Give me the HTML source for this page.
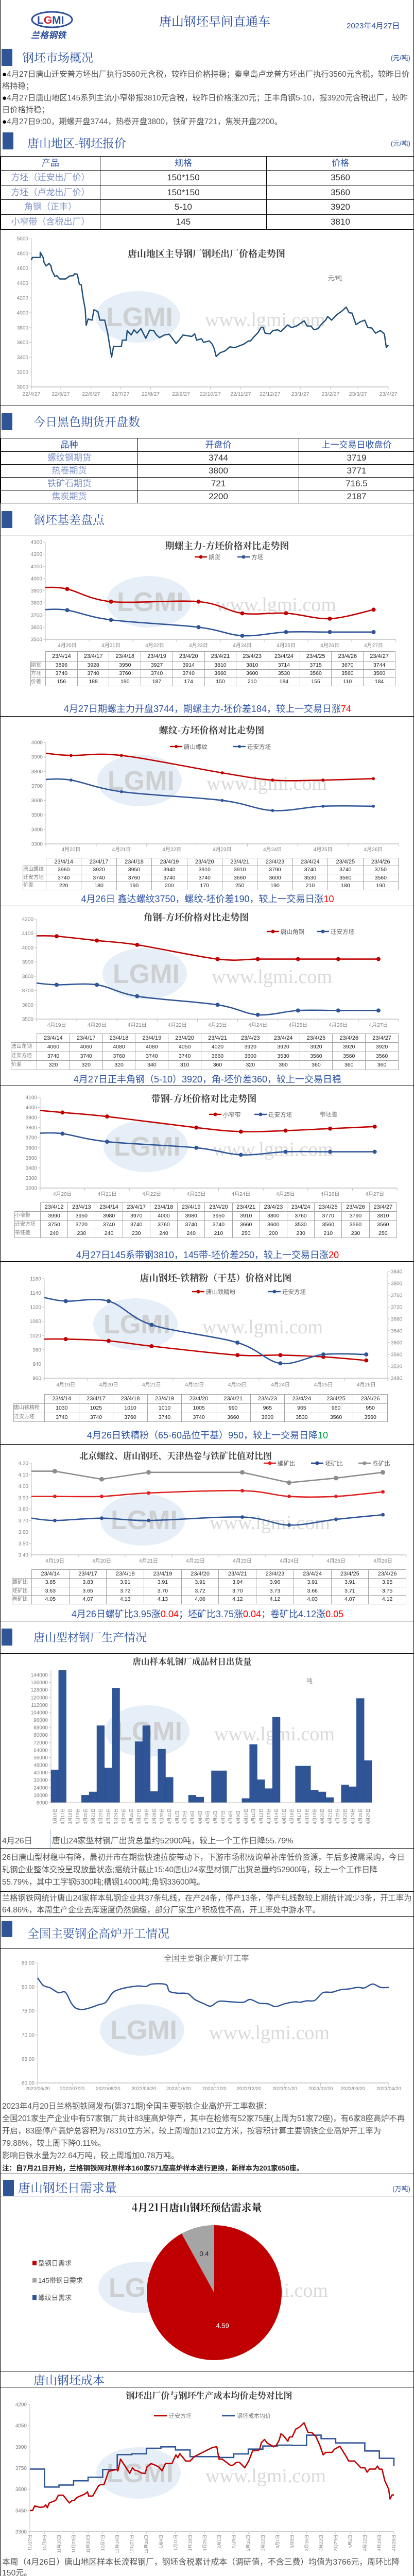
<!DOCTYPE html>
<html><head><meta charset="utf-8">
<style>
body{margin:0;background:#fff;overflow:hidden}
#page{position:relative;width:804px;height:5008px;overflow:hidden;font-family:"Liberation Sans","Noto Sans CJK SC",sans-serif;border-left:1px solid #000;border-right:1px solid #000;box-sizing:border-box;background:#fff}
#svg{position:absolute;left:0;top:0}
.hl{position:absolute;left:0;width:804px;height:0;border-top:1.5px solid #000}
.bar{position:absolute;background:#2f5597;width:21px;height:33px;border-radius:1px}
.sec{position:absolute;font-family:"Noto Serif CJK SC","Liberation Serif",serif;font-size:23px;color:#2f55a4;line-height:1;white-space:nowrap}
.unit{position:absolute;right:6px;font-size:13px;color:#2f55a4}
.txt{position:absolute;left:3px;width:796px;font-size:15.3px;color:#555;line-height:23px}
.cap{position:absolute;left:0;width:804px;text-align:center;font-size:18px;color:#2f55a4;line-height:20px;white-space:nowrap}
.red{color:#ff0000}.grn{color:#00a040}
table{border-collapse:collapse;position:absolute;table-layout:fixed}
table.q td{border:1.5px solid #000;text-align:center;font-size:17px;color:#333;padding:0;line-height:20px}
table.q tr.h td{color:#2f55a4}
table.q td.f{color:#7f93c6}
table.t td{border:1px solid #a6a6a6;text-align:center;font-size:10.5px;color:#222;padding:0;white-space:nowrap;overflow:hidden;box-sizing:border-box}
table.t td.l{color:#808080;text-align:left;font-size:10px}
table.t td.e{border:none}
</style></head>
<body>
<div id="page">
<svg id="svg" width="804" height="5008" xmlns="http://www.w3.org/2000/svg"></svg>

<svg style="position:absolute;left:55px;top:18px" width="95" height="62">
<ellipse cx="45" cy="20" rx="39" ry="15" fill="none" stroke="#2a4c9c" stroke-width="3"/>
<text x="16" y="28" font-size="21" font-weight="bold" fill="#2a4c9c" font-family="Liberation Sans">L<tspan fill="#d02030">G</tspan>MI</text>
<text x="4" y="56" font-size="17" font-weight="bold" font-style="italic" fill="#2a4c9c" font-family="Noto Sans CJK SC">兰格钢铁</text>
</svg>
<div style="position:absolute;left:308px;top:26px;font-family:'Noto Serif CJK SC',serif;font-size:24px;line-height:1.2;color:#2a4c9c">唐山钢坯早间直通车</div>
<div style="position:absolute;left:672px;top:39px;font-size:15px;color:#2a4c9c">2023年4月27日</div>

<div class="bar" style="left:2px;top:95px"></div>
<div class="sec" style="left:42px;top:99px">钢坯市场概况</div>
<div class="unit" style="top:102px">(元/吨)</div>
<div class="txt" style="top:133px"><span style="color:#000">●</span>4月27日唐山迁安普方坯出厂执行3560元含税，较昨日价格持稳；秦皇岛卢龙普方坯出厂执行3560元含税，较昨日价格持稳；<br><span style="color:#000">●</span>4月27日唐山地区145系列主流小窄带报3810元含税，较昨日价格涨20元；正丰角钢5-10，报3920元含税出厂，较昨日价格持稳；<br><span style="color:#000">●</span>4月27日9:00，期螺开盘3744，热卷开盘3800，铁矿开盘721，焦炭开盘2200。</div>

<div class="bar" style="left:4px;top:257px"></div>
<div class="sec" style="left:52px;top:265px">唐山地区-钢坯报价</div>
<div class="unit" style="top:268px">(元/吨)</div>
<table class="q" style="left:0;top:303px;width:804px">
<colgroup><col style="width:193px"><col style="width:323px"><col></colgroup>
<tr class="h" style="height:27px"><td>产品</td><td>规格</td><td>价格</td></tr>
<tr style="height:29px"><td class="f">方坯（迁安出厂价）</td><td>150*150</td><td>3560</td></tr>
<tr style="height:28px"><td class="f">方坯（卢龙出厂价）</td><td>150*150</td><td>3560</td></tr>
<tr style="height:29px"><td class="f">角钢（正丰）</td><td>5-10</td><td>3920</td></tr>
<tr style="height:29px"><td class="f">小窄带（含税出厂）</td><td>145</td><td>3810</td></tr>
</table>
<div class="hl" style="top:786px"></div>

<div class="bar" style="left:2px;top:802px"></div>
<div class="sec" style="left:64px;top:806px">今日黑色期货开盘数</div>
<table class="q" style="left:0;top:850px;width:804px">
<colgroup><col style="width:266px"><col style="width:313px"><col></colgroup>
<tr class="h" style="height:26px"><td>品种</td><td>开盘价</td><td>上一交易日收盘价</td></tr>
<tr style="height:25px"><td class="f">螺纹钢期货</td><td>3744</td><td>3719</td></tr>
<tr style="height:25px"><td class="f">热卷期货</td><td>3800</td><td>3771</td></tr>
<tr style="height:25px"><td class="f">铁矿石期货</td><td>721</td><td>716.5</td></tr>
<tr style="height:25px"><td class="f">焦炭期货</td><td>2200</td><td>2187</td></tr>
</table>

<div class="bar" style="left:2px;top:992px"></div>
<div class="sec" style="left:64px;top:996px">钢坯基差盘点</div>
<div class="hl" style="top:1038px"></div>

<div class="cap" style="top:1366px">4月27日期螺主力开盘3744，期螺主力-坯价差184，较上一交易日涨<span class="red">74</span></div>
<div class="hl" style="top:1390px"></div>
<div class="cap" style="top:1735px">4月26日 鑫达螺纹3750，螺纹-坯价差190，较上一交易日涨<span class="red">10</span></div>
<div class="hl" style="top:1758px"></div>
<div class="cap" style="top:2085px">4月27日正丰角钢（5-10）3920，角-坯价差360，较上一交易日稳</div>
<div class="hl" style="top:2107px"></div>
<div class="cap" style="top:2426px">4月27日145系带钢3810，145带-坯价差250，较上一交易日涨<span class="red">20</span></div>
<div class="hl" style="top:2448px"></div>
<div class="cap" style="top:2776px">4月26日铁精粉（65-60品位干基）950，较上一交易日降<span class="grn">10</span></div>
<div class="hl" style="top:2803px"></div>
<div class="cap" style="top:3123px">4月26日螺矿比3.95涨<span class="red">0.04</span>；坯矿比3.75涨<span class="red">0.04</span>；卷矿比4.12涨<span class="red">0.05</span></div>
<div class="hl" style="top:3146px"></div>

<div class="bar" style="left:2px;top:3161px;height:33px"></div>
<div class="sec" style="left:64px;top:3167px;font-size:22px">唐山型材钢厂生产情况</div>
<div class="hl" style="top:3209px"></div>

<div style="position:absolute;left:3px;top:3559px;font-size:16px;color:#555">4月26日</div>
<div style="position:absolute;left:97px;top:3552px;height:35px;border-left:1px solid #a8b8d8"></div>
<div style="position:absolute;left:100px;top:3559px;font-size:16px;color:#555">唐山24家型材钢厂出货总量约52900吨，较上一个工作日降55.79%</div>
<div class="hl" style="top:3587px"></div>
<div class="txt" style="top:3594px;line-height:24px">26日唐山型材稳中有降，晨初开市在期盘快速拉旋带动下，下游市场积极询单补库低价资源，午后多按需采购，今日轧钢企业整体交投呈现放量状态;据统计截止15:40唐山24家型材钢厂出货总量约52900吨，较上一个工作日降55.79%，其中工字钢5300吨;槽钢14000吨;角钢33600吨。</div>
<div class="hl" style="top:3671px"></div>
<div class="txt" style="top:3673px;line-height:23px">兰格钢铁网统计唐山24家样本轧钢企业共37条轧线，在产24条，停产13条，停产轧线数较上期统计减少3条，开工率为64.86%，本周生产企业去库速度仍然偏缓，部分厂家生产积极性不高，开工率处中游水平。</div>
<div class="hl" style="top:3719px"></div>
<div class="bar" style="left:2px;top:3729px;height:31px"></div>
<div class="sec" style="left:52px;top:3740px">全国主要钢企高炉开工情况</div>
<div class="hl" style="top:3782px"></div>

<div class="txt" style="top:4077px;line-height:24px">2023年4月20日兰格钢铁网发布(第371期)全国主要钢铁企业高炉开工率数据：<br>全国201家生产企业中有57家钢厂共计83座高炉停产，其中在检修有52家75座(上周为51家72座)，有6家8座高炉不再开启，83座停产高炉总容积为78310立方米，较上周增加1210立方米，按容积计算主要钢铁企业高炉开工率为79.88%，较上周下降0.11%。<br>影响日铁水量为22.64万吨，较上周增加0.78万吨。<br><span style="font-size:13.5px;color:#222;font-weight:bold">注：自7月21日开始，兰格钢铁网对原样本160家571座高炉样本进行更换，新样本为201家650座。</span></div>
<div class="hl" style="top:4219px"></div>
<div class="bar" style="left:5px;top:4231px;height:31px"></div>
<div class="sec" style="left:34px;top:4233px;font-size:24px">唐山钢坯日需求量</div>
<div class="unit" style="top:4238px">(万吨)</div>
<div class="hl" style="top:4262px"></div>
<div class="hl" style="top:4602px"></div>
<div class="sec" style="left:64px;top:4607px">唐山钢坯成本</div>
<div class="hl" style="top:4633px"></div>
<div class="txt" style="top:4963px;line-height:21px;font-size:15.8px">本周（4月26日）唐山地区样本长流程钢厂，钢坯含税累计成本（调研值，不含三费）均值为3766元，周环比降150元。</div>
</div>

<script>
// ===== data =====
const bigDays=[0,1,9,9,12,13,15,18,20,21,24,26,29,35,39,43,44,47,49,51,53,55,56,58,62,64,68,70,75,78,82,84,92,93,97,98,102,105,108,112,117,121,125,128,131,136,141,148,151,155,164,167,169,174,176,182,185,187,189,193,198,203,208,210,217,222,224,228,232,235,237,239,244,247,252,255,259,262,266,271,279,282,286,289,293,297,301,303,307,313,317,322,325,328,332,336,341,344,348,352,357,361,363,365];
const bigVals=[4710,4745,4745,4815,4745,4675,4630,4665,4630,4570,4490,4500,4455,4455,4495,4500,4525,4518,4385,4375,4190,4050,3830,3915,3900,4040,4015,3900,3900,3725,3400,3545,3545,3630,3630,3760,3700,3770,3725,3785,3655,3765,3760,3700,3665,3700,3710,3585,3630,3700,3680,3715,3630,3650,3600,3620,3575,3515,3410,3460,3485,3540,3530,3540,3575,3620,3620,3680,3735,3805,3805,3725,3715,3760,3770,3745,3795,3835,3800,3820,3890,3820,3820,3770,3785,3850,3900,3950,3900,3980,4015,4075,4000,3995,3840,3875,3900,3800,3795,3725,3760,3715,3530,3565];
const bigLabels=['22/4/27','22/5/27','22/6/27','22/7/27','22/8/27','22/9/27','22/10/27','22/11/27','22/12/27','23/1/27','23/2/27','23/3/27','23/4/27'];
const bigLabelDays=[0,30,61,91,122,153,183,214,244,275,306,334,365];

const c2Cats=['4月20日','4月21日','4月22日','4月23日','4月24日','4月25日','4月26日','4月27日'];
const c2Fut=[3914,3810,null,3810,3714,3715,3670,3744];
const c2Bil=[3740,3660,null,3600,3530,3560,3560,3560];
const c2Heads=['23/4/14','23/4/17','23/4/18','23/4/19','23/4/20','23/4/21','23/4/23','23/4/24','23/4/25','23/4/26','23/4/27'];
const c2RowFut=[3896,3928,3950,3927,3914,3810,3810,3714,3715,3670,3744];
const c2RowBil=[3740,3740,3760,3740,3740,3660,3600,3530,3560,3560,3560];
const c2RowDiff=[156,188,190,187,174,150,210,184,155,110,184];

const c3Cats=['4月20日','4月21日','4月22日','4月23日','4月24日','4月25日','4月26日'];
const c3Reb=[3910,3910,null,3790,3740,3740,3750];
const c3Bil=[3740,3660,null,3600,3530,3560,3560];
const c3Heads=['23/4/14','23/4/17','23/4/18','23/4/19','23/4/20','23/4/21','23/4/23','23/4/24','23/4/25','23/4/26'];
const c3RowReb=[3960,3920,3950,3940,3910,3910,3790,3740,3740,3750];
const c3RowBil=[3740,3740,3760,3740,3740,3660,3600,3530,3560,3560];
const c3RowDiff=[220,180,190,200,170,250,190,210,180,190];

const c4Cats=['4月19日','4月20日','4月21日','4月22日','4月23日','4月24日','4月25日','4月26日','4月27日'];
const c4Ang=[4080,4050,4020,null,3920,3920,3920,3920,3920];
const c4Bil=[3740,3740,3660,null,3600,3530,3560,3560,3560];
const c4Heads=['23/4/14','23/4/17','23/4/18','23/4/19','23/4/20','23/4/21','23/4/23','23/4/24','23/4/25','23/4/26','23/4/27'];
const c4RowAng=[4060,4060,4080,4080,4050,4020,3920,3920,3920,3920,3920];
const c4RowBil=[3740,3740,3760,3740,3740,3660,3600,3530,3560,3560,3560];
const c4RowDiff=[320,320,320,340,310,360,320,390,360,360,360];

const c5Cats=['4月20日','4月21日','4月22日','4月23日','4月24日','4月25日','4月26日','4月27日'];
const c5Strip=[3950,3910,null,3800,3760,3770,3790,3810];
const c5Bil=[3740,3660,null,3600,3530,3560,3560,3560];
const c5Heads=['23/4/12','23/4/13','23/4/14','23/4/17','23/4/18','23/4/19','23/4/20','23/4/21','23/4/23','23/4/24','23/4/25','23/4/26','23/4/27'];
const c5RowStrip=[3990,3950,3980,3970,4000,3980,3950,3910,3800,3760,3770,3790,3810];
const c5RowBil=[3750,3720,3740,3740,3760,3740,3740,3660,3600,3530,3560,3560,3560];
const c5RowDiff=[240,230,240,230,240,240,210,250,200,230,210,230,250];

const c6Cats=['4月19日','4月20日','4月21日','4月22日','4月23日','4月24日','4月25日','4月26日'];
const c6Ore=[1010,1005,990,null,965,965,960,950];
const c6Bil=[3740,3740,3660,null,3600,3530,3560,3560];
const c6Heads=['23/4/14','23/4/17','23/4/18','23/4/19','23/4/20','23/4/21','23/4/23','23/4/24','23/4/25','23/4/26'];
const c6RowOre=[1030,1025,1010,1010,1005,990,965,965,960,950];
const c6RowBil=[3740,3740,3760,3740,3740,3660,3600,3530,3560,3560];

const c7Cats=['4月19日','4月20日','4月21日','4月22日','4月23日','4月24日','4月25日','4月26日'];
const c7Reb=[3.91,3.91,3.94,null,3.96,3.91,3.91,3.95];
const c7Bil=[3.70,3.72,3.70,null,3.73,3.66,3.71,3.75];
const c7Coil=[4.13,4.06,4.12,null,4.12,4.03,4.07,4.12];
const c7Heads=['23/4/14','23/4/17','23/4/18','23/4/19','23/4/20','23/4/21','23/4/23','23/4/24','23/4/25','23/4/26'];
const c7RowReb=['3.85','3.83','3.91','3.91','3.91','3.94','3.96','3.91','3.91','3.95'];
const c7RowBil=['3.63','3.65','3.72','3.70','3.72','3.70','3.73','3.66','3.71','3.75'];
const c7RowCoil=['4.05','4.07','4.13','4.13','4.06','4.12','4.12','4.03','4.07','4.12'];

const barCats=['3月16日','3月17日','3月18日','3月19日','3月20日','3月21日','3月22日','3月23日','3月24日','3月25日','3月26日','3月27日','3月28日','3月29日','3月30日','3月31日','4月1日','4月2日','4月3日','4月4日','4月5日','4月6日','4月7日','4月8日','4月9日','4月10日','4月11日','4月12日','4月13日','4月14日','4月15日','4月16日','4月17日','4月18日','4月19日','4月20日','4月21日','4月22日','4月23日','4月24日','4月25日','4月26日'];
const barVals=[43000,150000,0,0,16000,19500,90000,45000,130000,0,0,73000,90000,20000,65000,35000,0,0,16000,14000,0,42000,42000,0,0,12500,70000,32500,23000,99000,0,0,47000,47000,21500,19500,13500,0,27000,25000,119000,52900];

const bfDays=[0,5,11,18,24,29,33,39,46,53,59,65,71,78,87,94,99,111,114,121,130,136,144,150,157,167,178,184,192,199,206,214,223,227,233,240,247,255,262,270,277,283,290,297,304];
const bfVals=[81.9,80.3,79.8,78.8,78.9,76.7,75.6,75.3,75.7,76.3,76.8,78.8,79.5,79.9,80.2,80.1,80.6,80.5,79.1,78.7,78.6,77.4,76.5,76.0,77.0,76.9,76.8,77.4,76.6,76.5,75.9,76.5,76.9,76.8,77.1,77.2,78.8,78.9,79.4,79.6,79.9,79.8,80.6,79.9,79.9];
const bfLabels=['2022/06/20','2022/07/20','2022/08/20','2022/09/20','2022/10/20','2022/11/20','2022/12/20','2023/01/20','2023/02/20','2023/03/20','2023/04/20'];
const bfLabelDays=[0,30,61,92,122,153,183,214,245,273,304];

const pieLabels=['型钢日需求','145带钢日需求','螺纹日需求'];
const pieVals=[4.59,0.4,0];

const costDays=[0,1.3,2.3,4.8,6.7,7.6,8.4,9.3,12.4,13.7,16,19,20.3,21.3,22.6,26.4,27.7,28.3,30.2,33,34,35.6,36.6,37.8,41.7,42.3,43.6,45.5,48,49.3,50.5,51.8,53.7,55.4,56.3,58.2,59.4,62,63.5,65.2,68.3,70.2,71.1,72.1,74.9,77,79.1,83.6,87.4,89.3,89.9,90.9,92.5,96.3,97.5,99.4,100.7,103.3,105.2,107.1,109.6,110.5,111.3,112.8,114,117.2,118.5,119.8,120.7,121.7,124,124.8,126.1,127.8,129.9,131.8,133.7,135.6,137.5,139.4,141,142.2,145.2,146.4,149,152.1,153.2,156,159.1,161,162.1,163.3,166.1,167.1,168,169.3,170.6,172.5,173.1,174.1,175];
const costBillet=[3450,3450,3482,3472,3475,3490,3470,3503,3521,3558,3558,3503,3521,3521,3542,3566,3582,3552,3552,3625,3633,3633,3673,3727,3740,3730,3813,3770,3713,3752,3734,3730,3715,3712,3758,3782,3776,3758,3730,3782,3782,3843,3823,3852,3800,3800,3831,3865,3893,3900,3900,3813,3813,3770,3770,3791,3791,3752,3800,3873,3873,3885,3931,3952,3928,3900,3912,3946,3992,3983,3940,3970,3970,4025,4043,4070,4003,4000,3973,3910,3843,3861,3861,3883,3904,3831,3800,3800,3752,3752,3721,3743,3743,3764,3742,3742,3661,3600,3531,3560,3560];
const costWeekly=[3743,3616,3630,3660,3685,3740,3845,3851,3890,3900,3878,3831,3831,3825,3850,3884,3906,3912,3910,3983,3958,3928,3928,3871,3819,3766];
const costLabels=['11月2日','11月9日','11月16日','11月23日','11月30日','12月7日','12月14日','12月21日','12月28日','1月4日','1月11日','1月18日','1月25日','2月1日','2月8日','2月15日','2月22日','3月1日','3月8日','3月15日','3月22日','3月29日','4月5日','4月12日','4月19日','4月26日'];

// ===== helpers =====
const NS='http://www.w3.org/2000/svg';
const svg=document.getElementById('svg');
function el(tag,attrs,parent){const e=document.createElementNS(NS,tag);for(const k in attrs)e.setAttribute(k,attrs[k]);(parent||svg).appendChild(e);return e;}
function tx(x,y,s,attrs,parent){const e=el('text',Object.assign({x:x,y:y},attrs),parent);e.textContent=s;return e;}
function smooth(p){let d='M'+p[0][0]+','+p[0][1];for(let i=0;i<p.length-1;i++){const p0=p[i-1]||p[i],p1=p[i],p2=p[i+1],p3=p[i+2]||p2;d+=' C'+(p1[0]+(p2[0]-p0[0])/6)+','+(p1[1]+(p2[1]-p0[1])/6)+' '+(p2[0]-(p3[0]-p1[0])/6)+','+(p2[1]-(p3[1]-p1[1])/6)+' '+p2[0]+','+p2[1];}return d;}
function poly(p){return 'M'+p.map(q=>q[0]+','+q[1]).join(' L');}
const FONT='Liberation Sans, Noto Sans CJK SC, sans-serif';
const SERIF='Noto Serif CJK SC, Liberation Serif, serif';

function watermark(g,cx,cy){
  const e=el('ellipse',{cx:cx,cy:cy,rx:82,ry:50,fill:'#d6e4f2',opacity:0.6},g);
  
  const t=tx(cx-62,cy+18,'LGMI',{'font-size':52,'font-weight':'bold',fill:'#c8c8c8',opacity:0.8,'font-family':FONT},g);
  
  const w=tx(cx+130,cy+18,'www.lgmi.com',{'font-size':38,fill:'#d0d0d0',opacity:0.8,'font-family':'Liberation Serif, serif'},g);
  
}

function yAxis(g,x,yT,yB,vT,vB,step,dec,side){
  const ax=el('line',{x1:x,y1:yT,x2:x,y2:yB,stroke:'#bfbfbf','stroke-width':1},g);
  
  const n=Math.round((vT-vB)/step);
  for(let i=0;i<=n;i++){const v=vB+i*step;const y=yB-(v-vB)/(vT-vB)*(yB-yT);
    el('line',{x1:side==='r'?x:x-4,y1:y,x2:side==='r'?x+4:x,y2:y,stroke:'#bfbfbf'},g);
    const t=tx(side==='r'?x+6:x-6,y+3.5,v.toFixed(dec),{'font-size':10,fill:'#7f7f7f','text-anchor':side==='r'?'start':'end','font-family':FONT},g);
    
  }
}

function legendItem(g,x,y,color,label,marker){
  el('line',{x1:x,y1:y,x2:x+24,y2:y,stroke:color,'stroke-width':2.5},g);
  el('circle',{cx:x+12,cy:y,r:marker||3.5,fill:color},g);
  const t=tx(x+27,y+4.5,label,{'font-size':11.5,fill:'#595959','font-family':FONT},g);
  
}

function catChart(c){
  const g=el('g',{});
  
  watermark(g,c.wx,c.wy);
  yAxis(g,c.x0,c.yT,c.yB,c.vT,c.vB,c.step,c.dec||0,'l');
  if(c.right) yAxis(g,c.x1,c.right.yT,c.yB,c.right.vT,c.right.vB,c.right.step,0,'r');
  const ax=el('line',{x1:c.x0,y1:c.yB,x2:c.x1,y2:c.yB,stroke:'#bfbfbf','stroke-width':1.5},g);
  
  const w=(c.x1-c.x0)/c.cats.length;
  c.cats.forEach((s,i)=>{
    el('line',{x1:c.x0+i*w,y1:c.yB,x2:c.x0+i*w,y2:c.yB+5,stroke:'#bfbfbf'},g);
    const t=tx(c.x0+(i+0.5)*w,c.lY,s,{'font-size':10,fill:'#7f7f7f','text-anchor':'middle','font-family':FONT},g);
    
  });
  el('line',{x1:c.x1,y1:c.yB,x2:c.x1,y2:c.yB+5,stroke:'#bfbfbf'},g);
  const tt=tx(c.tx,c.ty,c.title,{'font-size':c.tfs||18,'font-weight':'bold',fill:'#404040','text-anchor':'middle','font-family':SERIF},g);
  
  c.series.forEach(s=>{
    const a=s.right?c.right:{vT:c.vT,vB:c.vB,yT:c.yT};
    const Y=v=>c.yB-(v-a.vB)/(a.vT-a.vB)*(c.yB-a.yT);
    const pts=[[c.x0,Y(s.start)]];
    s.vals.forEach((v,i)=>{if(v!==null)pts.push([c.x0+(i+0.5)*w,Y(v)]);});
    const p=el('path',{d:s.straight?poly(pts):smooth(pts),fill:'none',stroke:s.color,'stroke-width':2.6},g);
    
    pts.slice(1).forEach(q=>{
      const m=el('circle',{cx:q[0],cy:q[1],r:s.r||4,fill:s.color},g);
      
    });
  });
  c.legend.forEach(L=>legendItem(g,L[0],c.legY,L[1],L[2],L[3]));
  return g;
}

function dataTable(name,top,left,right,labW,heads,rowLabels,rows,hH,rH){
  const t=document.createElement('table');
  t.className='t';
  
  
  t.style.top=top+'px';t.style.left=left+'px';t.style.width=(right-left)+'px';
  const cg=document.createElement('colgroup');
  const c0=document.createElement('col');c0.style.width=labW+'px';cg.appendChild(c0);
  heads.forEach(()=>{const c=document.createElement('col');cg.appendChild(c);});
  t.appendChild(cg);
  const hr=document.createElement('tr');
  const e=document.createElement('td');e.className='e';e.style.height=hH+'px';e.style.lineHeight=(hH-1)+'px';hr.appendChild(e);
  heads.forEach(h=>{const d=document.createElement('td');d.textContent=h;d.style.fontSize='11px';d.style.height=hH+'px';d.style.lineHeight=(hH-1)+'px';hr.appendChild(d);});
  t.appendChild(hr);
  rows.forEach((r,ri)=>{
    const tr=document.createElement('tr');
    const l=document.createElement('td');l.className='l';l.textContent=rowLabels[ri];l.style.height=rH+'px';l.style.lineHeight=(rH-1)+'px';tr.appendChild(l);
    r.forEach(v=>{const d=document.createElement('td');d.textContent=v;d.style.height=rH+'px';d.style.lineHeight=(rH-1)+'px';tr.appendChild(d);});
    t.appendChild(tr);
  });
  document.getElementById('page').appendChild(t);
}

// ===== chart 1 =====
(function(){
  const g=el('g',{});
  
  const x0=60,x1=753,yT=463,yB=751,vT=5000,vB=3000;
  const X=d=>x0+d/365*(x1-x0), Y=v=>yB-(v-vB)/(vT-vB)*(yB-yT);
  watermark(g,267,615);
  yAxis(g,x0,yT,yB,vT,vB,200,0,'l');
  const ax=el('line',{x1:x0,y1:yB,x2:x1,y2:yB,stroke:'#bfbfbf','stroke-width':1.5},g);
  
  bigLabels.forEach((s,i)=>{const x=X(bigLabelDays[i]);
    el('line',{x1:x,y1:yB,x2:x,y2:yB+5,stroke:'#bfbfbf'},g);
    const t=tx(x,yB+17,s,{'font-size':10.5,fill:'#7f7f7f','text-anchor':'middle','font-family':FONT},g);
    });
  const tt=tx(400,499,'唐山地区主导钢厂钢坯出厂价格走势图',{'font-size':18,'font-weight':'bold',fill:'#404040','text-anchor':'middle','font-family':SERIF},g);
  
  const u=tx(636,544,'元/吨',{'font-size':12,fill:'#7f7f7f','font-family':FONT},g);
  
  const p=el('path',{d:poly(bigDays.map((d,i)=>[X(d),Y(bigVals[i])])),fill:'none',stroke:'#1f4e79','stroke-width':2.5,'stroke-linejoin':'round'},g);
  
})();

// ===== category charts =====
catChart({name:'futures-vs-billet-chart',x0:87,x1:767,yT:1052,yB:1241,vT:4300,vB:3500,step:100,cats:c2Cats,lY:1256,
  title:'期螺主力-方坯价格对比走势图',tx:440,ty:1066,legY:1081,wx:288,wy:1168,
  series:[{name:'futures-line',vals:c2Fut,start:3927,color:'#c00000'},{name:'billet-line',vals:c2Bil,start:3745,color:'#2f5597'}],
  legend:[[377,'#c00000','期货'],[460,'#2f5597','方坯']]});
dataTable('futures-basis-table',1264,58,767,29,c2Heads,['期货','方坯','价差'],[c2RowFut,c2RowBil,c2RowDiff],19,16);

catChart({name:'rebar-vs-billet-chart',x0:88,x1:773,yT:1441,yB:1638,vT:4000,vB:3300,step:100,cats:c3Cats,lY:1652,
  title:'螺纹-方坯价格对比走势图',tx:410,ty:1424,legY:1449,wx:270,wy:1515,
  series:[{name:'rebar-line',vals:c3Reb,start:3925,color:'#c00000',r:3},{name:'billet-line',vals:c3Bil,start:3745,color:'#2f5597',r:3}],
  legend:[[329,'#c00000','唐山螺纹',3],[452,'#2f5597','迁安方坯',3]]});
dataTable('rebar-basis-table',1665,43,773,45,c3Heads,['唐山螺纹','迁安方坯','价差'],[c3RowReb,c3RowBil,c3RowDiff],15,15.5);

catChart({name:'angle-vs-billet-chart',x0:70,x1:773,yT:1784,yB:1978,vT:4200,vB:3500,step:100,cats:c4Cats,lY:1993,
  title:'角钢-方坯价格对比走势图',tx:380,ty:1787,legY:1808,wx:280,wy:1890,
  series:[{name:'angle-line',vals:c4Ang,start:4083,color:'#c00000'},{name:'billet-line',vals:c4Bil,start:3752,color:'#2f5597'}],
  legend:[[517,'#c00000','唐山角钢'],[614,'#2f5597','迁安方坯']]});
dataTable('angle-basis-table',2006,20,773,50,c4Heads,['唐山角钢','迁安方坯','价差'],[c4RowAng,c4RowBil,c4RowDiff],17,17.5);

catChart({name:'strip-vs-billet-chart',x0:77,x1:770,yT:2130,yB:2306,vT:4100,vB:3200,step:100,cats:c5Cats,lY:2321,
  title:'带钢-方坯价格对比走势图',tx:395,ty:2139,legY:2163,wx:282,wy:2225,
  series:[{name:'strip-line',vals:c5Strip,start:3970,color:'#c00000'},{name:'billet-line',vals:c5Bil,start:3745,color:'#2f5597'}],
  legend:[[405,'#c00000','小窄带'],[493,'#2f5597','迁安方坯']]});
(function(){const t=tx(620,2167,'带坯差',{'font-size':11.5,fill:'#7f7f7f','font-family':FONT});})();
dataTable('strip-basis-table',2334,27,770,50,c5Heads,['小窄带','迁安方坯','带坯差'],[c5RowStrip,c5RowBil,c5RowDiff],17,17);

catChart({name:'billet-vs-ore-chart',x0:85,x1:752,yT:2482,yB:2675,vT:1180,vB:900,step:40,cats:c6Cats,lY:2691,
  right:{yT:2468,vT:3840,vB:3480,step:40},
  title:'唐山钢坯-铁精粉（干基）价格对比图',tx:418,ty:2487,legY:2507,wx:262,wy:2570,
  series:[{name:'ore-powder-line',vals:c6Ore,start:1010,color:'#c00000'},{name:'billet-line',vals:c6Bil,start:3752,color:'#2f5597',right:true}],
  legend:[[372,'#c00000','唐山铁精粉'],[520,'#2f5597','迁安方坯']]});
dataTable('ore-powder-table',2706,25,752,60,c6Heads,['唐山铁精粉','迁安方坯'],[c6RowOre,c6RowBil],18,17.5);

catChart({name:'ore-ratio-chart',x0:60,x1:788,yT:2840,yB:3018,vT:4.2,vB:3.4,step:0.1,dec:2,cats:c7Cats,lY:3033,
  title:'北京螺纹、唐山钢坯、天津热卷与铁矿比值对比图',tx:340,ty:2832,tfs:17,legY:2840,wx:276,wy:2950,
  series:[{name:'rebar-ore-ratio-line',vals:c7Reb,start:3.91,color:'#e02020',r:3.5},{name:'billet-ore-ratio-line',vals:c7Bil,start:3.72,color:'#2f5597',r:3.5},{name:'coil-ore-ratio-line',vals:c7Coil,start:4.13,color:'#8c8c8c',r:4.5,straight:true}],
  legend:[[511,'#e02020','螺矿比'],[603,'#1f3f8f','坯矿比'],[695,'#8c8c8c','卷矿比']]});
dataTable('ore-ratio-table',3046,22,788,38,c7Heads,['螺矿比','坯矿比','卷矿比'],[c7RowReb,c7RowBil,c7RowCoil],17,16.5);

// ===== bar chart =====
(function(){
  const g=el('g',{});
  
  const x0=98,x1=721,yT=3251,yB=3499,vT=144000,vB=8000;
  watermark(g,285,3360);
  const Y=v=>yB-(Math.max(v,vB)-vB)/(vT-vB)*(yB-yT);
  yAxis(g,x0,yT,yB,vT,vB,8000,0,'l');
  el('line',{x1:x0,y1:3241,x2:x0,y2:yT,stroke:'#bfbfbf'},g);
  const w=(x1-x0)/barCats.length;
  barCats.forEach((s,i)=>{
    const y=Y(barVals[i]);
    if(yB-y>0.5){const yy=Math.max(y,3242);const r=el('rect',{x:x0+i*w,y:yy,width:w,height:yB-yy,fill:'#2f5597',stroke:'#2a4a8a','stroke-width':0.5},g);
      }
    const cx=x0+(i+0.5)*w;
    const t=tx(cx+3,3541,s,{'font-size':8.5,fill:'#7f7f7f','font-family':FONT,transform:'rotate(-90 '+(cx+3)+' 3541)'},g);
    
  });
  el('line',{x1:x0,y1:yB,x2:x1,y2:yB,stroke:'#bfbfbf'},g);
  const tt=tx(372,3231,'唐山样本轧钢厂成品材日出货量',{'font-size':16.5,'font-weight':'bold',fill:'#404040','text-anchor':'middle','font-family':SERIF},g);
  
  const u=tx(594,3267,'吨',{'font-size':12,fill:'#7f7f7f','font-family':FONT},g);
  
})();

// ===== blast furnace chart =====
(function(){
  const g=el('g',{});
  
  const x0=72,x1=754,yT=3810,yB=4043,vT=85,vB=60;
  const X=d=>x0+d/304*(x1-x0), Y=v=>yB-(v-vB)/(vT-vB)*(yB-yT);
  watermark(g,275,3940);
  yAxis(g,x0,yT,yB,vT,vB,5,2,'l');
  const ax=el('line',{x1:x0,y1:yB,x2:x1,y2:yB,stroke:'#bfbfbf','stroke-width':1.5},g);
  
  bfLabels.forEach((s,i)=>{const x=X(bfLabelDays[i]);
    el('line',{x1:x,y1:yB,x2:x,y2:yB+5,stroke:'#bfbfbf'},g);
    const t=tx(x,yB+14,s,{'font-size':9.5,fill:'#7f7f7f','text-anchor':'middle','font-family':FONT},g);
    });
  const tt=tx(400,3806,'全国主要钢企高炉开工率',{'font-size':15,fill:'#7f7f7f','text-anchor':'middle','font-family':FONT},g);
  
  const p=el('path',{d:smooth(bfDays.map((d,i)=>[X(d),Y(bfVals[i])])),fill:'none',stroke:'#2f5597','stroke-width':2.5},g);
  
})();

// ===== pie =====
(function(){
  const g=el('g',{});
  
  watermark(g,272,4440);
  const tt=tx(381,4292,'4月21日唐山钢坯预估需求量',{'font-size':20,'font-weight':'bold',fill:'#222','text-anchor':'middle','font-family':SERIF},g);
  
  const cx=415,cy=4450,r=131,colors=['#c00000','#a5a5a5','#2f5597'];
  const tot=pieVals.reduce((a,b)=>a+b,0);
  let a0=0;
  pieVals.forEach((v,i)=>{
    if(v<=0)return;
    const a1=a0+v/tot*2*Math.PI;
    const p1=[cx+r*Math.sin(a0),cy-r*Math.cos(a0)],p2=[cx+r*Math.sin(a1),cy-r*Math.cos(a1)];
    const s=el('path',{d:'M'+cx+','+cy+' L'+p1[0]+','+p1[1]+' A'+r+','+r+' 0 '+((a1-a0)>Math.PI?1:0)+' 1 '+p2[0]+','+p2[1]+' Z',fill:colors[i]},g);
    
    const am=(a0+a1)/2, rr=i===0?0.5:0.6;
    const t=tx(cx+r*rr*Math.sin(am),cy-r*rr*Math.cos(am)+5,String(v),{'font-size':13,fill:i===0?'#fff':'#222','text-anchor':'middle','font-family':FONT},g);
    
    a0=a1;
  });
  pieLabels.forEach((s,i)=>{
    const y=4393+i*33.5;
    el('rect',{x:62,y:y-5,width:8,height:9,fill:colors[i]},g);
    const t=tx(73,y+4.5,s,{'font-size':13,fill:'#595959','font-family':FONT},g);
    
  });
})();

// ===== cost chart =====
(function(){
  const g=el('g',{});
  
  const x0=57,x1=764,yT=4667,yB=4914,vT=4200,vB=3300;
  const X=d=>x0+d/175*(x1-x0), Y=v=>yB-(v-vB)/(vT-vB)*(yB-yT);
  watermark(g,268,4800);
  yAxis(g,x0,yT,yB,vT,vB,150,0,'l');
  const ax=el('line',{x1:x0,y1:yB,x2:x1,y2:yB,stroke:'#bfbfbf','stroke-width':1.5},g);
  
  costLabels.forEach((s,i)=>{const x=X(i*7);
    el('line',{x1:x,y1:yB,x2:x,y2:yB+4,stroke:'#bfbfbf'},g);
    const t=tx(x+3,yB+6,s,{'font-size':8.5,fill:'#7f7f7f','text-anchor':'end','font-family':FONT,transform:'rotate(-90 '+(x+3)+' '+(yB+6)+')'},g);
    });
  const tt=tx(405,4656,'钢坯出厂价与钢坯生产成本均价走势对比图',{'font-size':17,'font-weight':'bold',fill:'#404040','text-anchor':'middle','font-family':SERIF},g);
  
  let d='M'+X(0)+','+Y(costWeekly[0]);
  for(let i=1;i<costWeekly.length;i++){d+=' H'+X(i*7)+' V'+Y(costWeekly[i]);}
  const pb=el('path',{d:d,fill:'none',stroke:'#2f5597','stroke-width':2.6},g);
  
  const pr=el('path',{d:poly(costDays.map((dd,i)=>[X(dd),Y(costBillet[i])])),fill:'none',stroke:'#c00000','stroke-width':2.6,'stroke-linejoin':'round'},g);
  
  [[298,'#c00000','迁安方坯'],[430,'#2f5597','钢坯成本均价']].forEach(L=>{
    el('line',{x1:L[0],y1:4689,x2:L[0]+25,y2:4689,stroke:L[1],'stroke-width':2.5},g);
    const t=tx(L[0]+29,4693,L[2],{'font-size':11,fill:'#7f7f7f','font-family':FONT},g);
    
  });
})();
</script>
</body></html>
